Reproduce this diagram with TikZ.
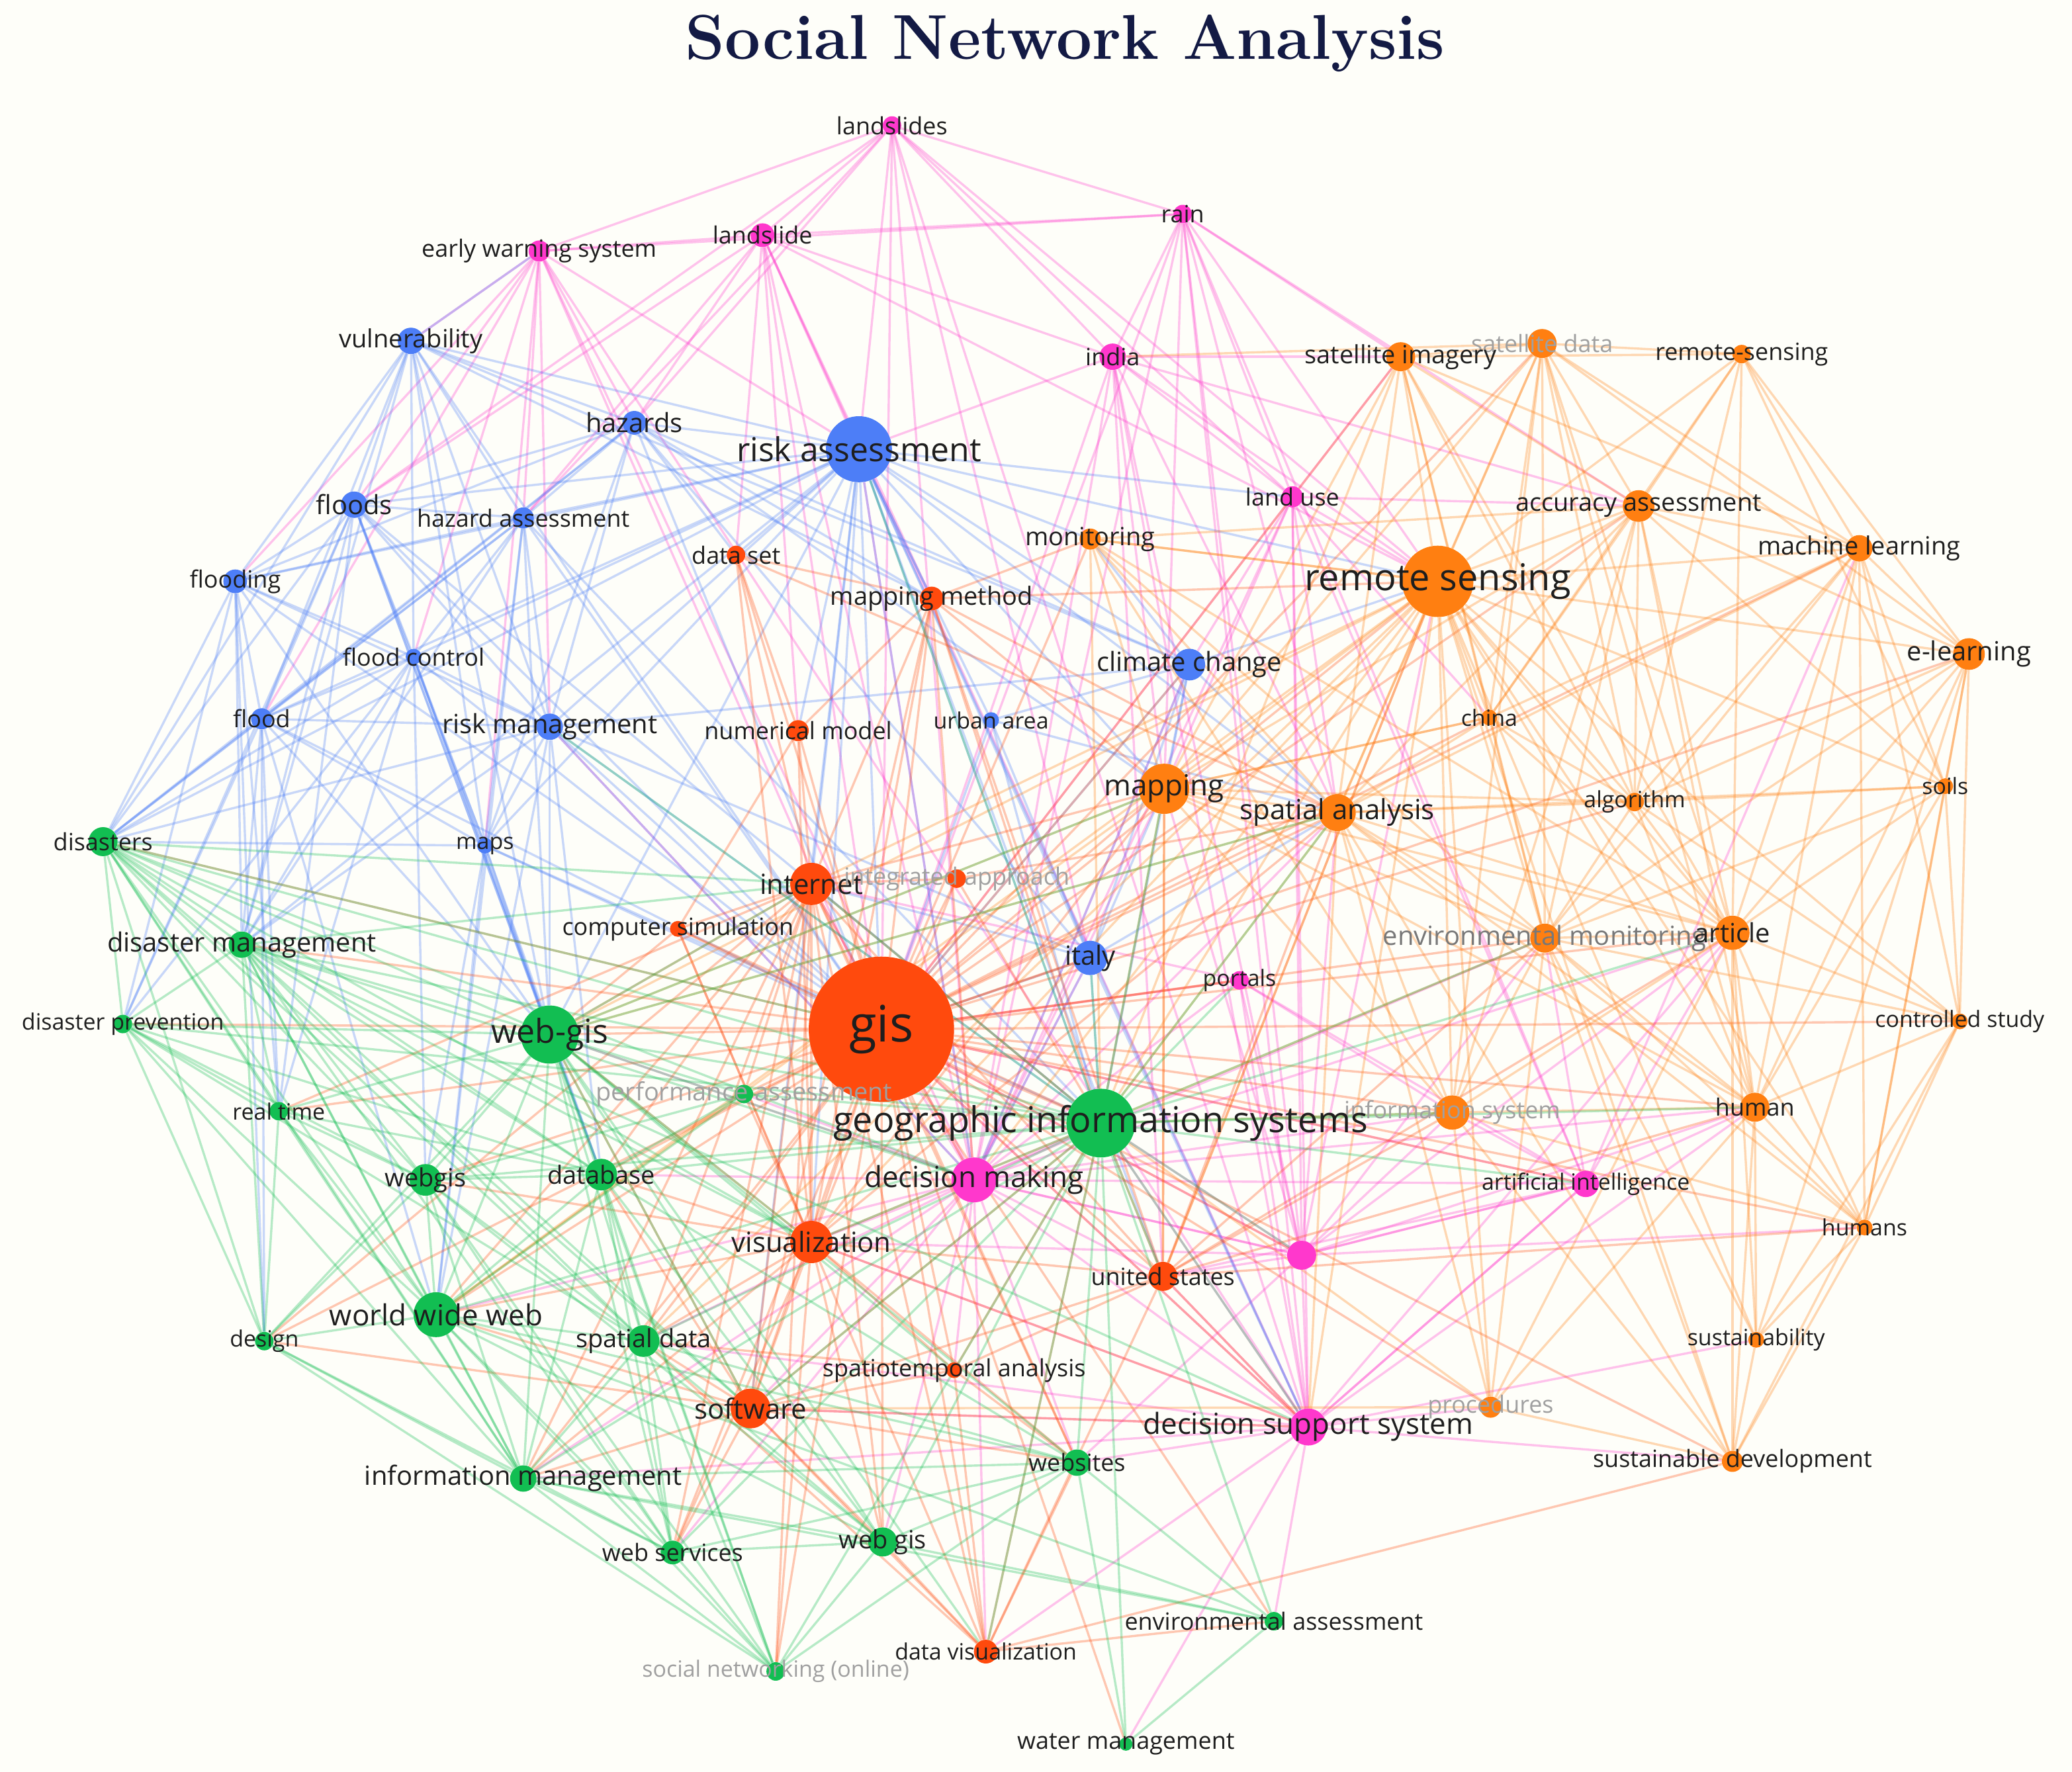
\documentclass[tikz,border=0pt]{standalone}
\usepackage{fontspec}
\newfontfamily\labfont{Open Sans}
\usetikzlibrary{backgrounds}
\definecolor{bgc}{HTML}{FEFEF9}
\definecolor{titlec}{HTML}{131A44}
\definecolor{cP}{HTML}{FF38CC}
\definecolor{cB}{HTML}{4D7EF7}
\definecolor{cR}{HTML}{FF4A0D}
\definecolor{cO}{HTML}{FF7F11}
\definecolor{cG}{HTML}{12BE52}
\definecolor{dark}{HTML}{1E1E1E}
\definecolor{faint}{HTML}{A0A0A0}
\definecolor{mid}{HTML}{787878}
\tikzset{
  kw/.style={circle, inner sep=0pt, draw=none},
  lab/.style={inner sep=0pt, font=\labfont},
  eP/.style={draw=cP, line width=1.7pt, draw opacity=0.3},
  eB/.style={draw=cB, line width=1.7pt, draw opacity=0.3},
  eR/.style={draw=cR, line width=1.7pt, draw opacity=0.3},
  eO/.style={draw=cO, line width=1.7pt, draw opacity=0.3},
  eG/.style={draw=cG, line width=1.7pt, draw opacity=0.3},
}
\begin{document}
\begin{tikzpicture}[x={(1pt,0pt)}, y={(0pt,-1pt)}]
\useasboundingbox (0,0) rectangle (1568,1341);
% ---------- keyword nodes ----------
\foreach \n/\x/\y/\r/\c in {
 lsl/675/95/7/cP, rain/895/162/7/cP, ews/408/190/8/cP, ls/577/178/9/cP,
 india/842/270/10/cP, landuse/978/376/8/cP, portals/938/742/7/cP,
 dm/737/893/17/cP, ai/1200/896/10/cP, pk/985/950/11/cP, dss/990/1080/14/cP,
 vuln/311/258/10/cB, haz/480/320/9/cB, ra/650/340/25/cB, floods/268/382/10/cB,
 hazas/396/392/8/cB, flooding/178/440/9/cB, fc/313/497/6/cB, flood/198/544/8/cB,
 rm/416/550/10/cB, maps/367/640/6/cB, urban/750/545/6/cB, cc/900/503/12/cB,
 italy/825/725/13/cB,
 dataset/557/420/7/cR, mm/705/453/9/cR, nm/604/553/8/cR, inet/614/669/16/cR,
 ia/724/665/7/cR, cs/513/703/6/cR, gis/667/779/55/cR, vis/614/940/16/cR,
 us/880/966/11/cR, sw/568/1066/15/cR, sta/722/1037/6/cR, dv/746/1250/9/cR,
 satd/1167/260/11/cO, sati/1060/270/11/cO, rsh/1318/268/7/cO, mon/825/408/8/cO,
 acc/1240/383/12/cO, rs/1088/440/27/cO, ml/1407/415/10/cO, el/1490/495/12/cO,
 china/1127/543/6/cO, mapping/881/597/19/cO, sa/1012/615/14/cO, alg/1237/607/7/cO,
 soils/1472/595/6/cO, envmon/1169/710/11/cO, article/1311/706/13/cO,
 ctrl/1483/773/6/cO, infsys/1099/842/13/cO, human/1328/838/11/cO,
 humans/1411/929/6/cO, sust/1329/1014/6/cO, proc/1128/1065/8/cO,
 sustdev/1311/1106/8/cO,
 dis/78/637/11/cG, disman/183/715/10/cG, disprev/93/775/7/cG, webgisA/416/783/22/cG,
 perf/563/828/7/cG, rt/211/841/7/cG, gisys/833/850/26/cG, webgisB/322/893/12/cG,
 db/455/889/12/cG, www/330/995/17/cG, design/200/1015/7/cG, sd/487/1015/12/cG,
 im/396/1119/10/cG, websites/815/1107/10/cG, webgisC/668/1167/11/cG,
 ws/509/1175/9/cG, envas/964/1227/7/cG, sn/587/1265/7/cG, wm/852/1320/5/cG}
 {\node[kw, fill=\c, minimum size=2*\r] (\n) at (\x,\y) {};}
% ---------- labels ----------
\foreach \n/\t/\s/\c in {
 lsl/landslides/18/dark, rain/rain/18/dark, ews/early warning system/18/dark,
 ls/landslide/18/dark, india/india/18/dark, landuse/land use/18/dark,
 portals/portals/17/dark, dm/decision making/22/dark,
 ai/artificial intelligence/17/dark, dss/decision support system/22/dark,
 vuln/vulnerability/19/dark, haz/hazards/20/dark, ra/risk assessment/25/dark,
 floods/floods/20/dark, hazas/hazard assessment/18/dark, flooding/flooding/18/dark,
 fc/flood control/18/dark, flood/flood/18/dark, rm/risk management/20/dark,
 maps/maps/17/dark, urban/urban area/17/dark, cc/climate change/20/dark,
 italy/italy/20/dark,
 dataset/data set/18/dark, mm/mapping method/19/dark, nm/numerical model/18/dark,
 inet/internet/21/dark, ia/integrated approach/18/faint,
 cs/computer simulation/18/dark, gis/gis/38/dark, vis/visualization/21/dark,
 us/united states/18/dark, sw/software/21/dark,
 sta/spatiotemporal analysis/18/dark, dv/data visualization/17/dark,
 satd/satellite data/18/faint, sati/satellite imagery/19/dark,
 rsh/remote-sensing/18/dark, mon/monitoring/19/dark,
 acc/accuracy assessment/19/dark, rs/remote sensing/28/dark,
 ml/machine learning/19/dark, el/e-learning/20/dark, china/china/17/dark,
 mapping/mapping/22/dark, sa/spatial analysis/21/dark, alg/algorithm/17/dark,
 soils/soils/17/dark, envmon/environmental monitoring/20/mid,
 article/article/20/dark, ctrl/controlled study/17/dark,
 infsys/information system/18/faint, human/human/18/dark, humans/humans/17/dark,
 sust/sustainability/17/dark, proc/procedures/18/faint,
 sustdev/sustainable development/18/dark,
 dis/disasters/18/dark, disman/disaster management/20/dark,
 disprev/disaster prevention/17/dark, webgisA/web-gis/25/dark,
 perf/performance assessment/19/faint, rt/real time/17/dark,
 gisys/geographic information systems/27/dark, webgisB/webgis/19/dark,
 db/database/19/dark, www/world wide web/22/dark, design/design/17/dark,
 sd/spatial data/19/dark, im/information management/20/dark,
 websites/websites/18/dark, webgisC/web gis/19/dark, ws/web services/18/dark,
 envas/environmental assessment/18/dark,
 sn/social networking (online)/17/faint, wm/water management/18/dark}
 {\node[lab, text=\c] (\n-lab) at (\n) {\fontsize{\s}{\s}\selectfont \t};}
% ---------- title ----------
\node[inner sep=0pt, text=titlec, font=\bfseries\fontsize{48}{48}\selectfont] (title) at (806,33) {Social Network Analysis};
% ---------- background and links ----------
\begin{scope}[on background layer]
\fill[bgc] (0,0) rectangle (1568,1341);
\foreach \s/\c/\ts in {
 lsl/eP/{rain,ews,ls,ra,haz,india,landuse,dm,gis,rs,floods,hazas,dss,italy},
 rain/eP/{ews,ls,india,landuse,rs,gis,dm,dss,sati,mapping,sa,acc,ai,pk},
 ews/eP/{ls,vuln,haz,floods,hazas,flooding,flood,rm,ra,gis,dm,dss,fc,maps},
 ls/eP/{ra,haz,hazas,gis,dm,mm,dataset,nm,dss,floods,india,rs},
 india/eP/{landuse,rs,mapping,gis,ra,dss,dm,sa,us,sati,acc,pk},
 landuse/eP/{rs,sa,gis,mapping,dm,dss,pk,ai,cc,acc,china,sati},
 portals/eP/{gis,dm,dss,ai,pk,infsys,inet},
 dm/eP/{gis,gisys,dss,vis,inet,ra,mapping,sa,pk,ai,us,sw,webgisA,db,www,sd,websites,rm,italy,cc,envmon,article,infsys,human,sta,dv,webgisC,im,ws,perf},
 ai/eP/{dss,pk,gis,article,human,envmon,infsys,us,ml},
 pk/eP/{dss,gis,gisys,dm,us,ai,vis,sa,mapping,rs,article,envmon,websites,infsys,human,humans},
 dss/eP/{gis,gisys,vis,us,sw,websites,envas,wm,proc,sustdev,sust,ai,human,article,dv,im,sd},
 vuln/eB/{haz,ra,floods,hazas,flooding,flood,fc,rm,maps,gis,dis,disman,ews,cc,webgisA,mm},
 haz/eB/{ra,floods,hazas,flooding,flood,rm,maps,gis,cc,mapping,dis,italy,mm,dataset},
 ra/eB/{floods,hazas,flooding,flood,fc,rm,maps,gis,gisys,cc,italy,mapping,sa,rs,mm,dataset,nm,urban,inet,dm,dss,webgisA,disman,dis,vis,landuse,mon,sw,us},
 floods/eB/{hazas,flooding,flood,fc,rm,maps,gis,dis,disman,disprev,webgisA,rt,db,gisys},
 hazas/eB/{flooding,flood,fc,rm,maps,gis,webgisA,dis,disman,gisys,www},
 flooding/eB/{flood,fc,rm,dis,disman,disprev,gis,webgisA,rt,design},
 fc/eB/{flood,rm,maps,gis,dis,disman,disprev,webgisA,rt,db,webgisB},
 flood/eB/{rm,dis,disman,disprev,gis,webgisA,rt,maps,www,design},
 rm/eB/{maps,gis,gisys,webgisA,dis,disman,db,www,italy,cc,dm},
 maps/eB/{gis,webgisA,gisys,dis,db,webgisB,www},
 urban/eB/{gis,cc,italy,gisys,sa},
 cc/eB/{gis,italy,gisys,rs,sa,mapping,mon,dm},
 italy/eB/{gis,gisys,inet,dss,mapping,dm,sa},
 dataset/eR/{gis,mm,inet,nm,vis,sa},
 mm/eR/{gis,inet,nm,vis,rs,mapping,sa,dm,gisys,sw,us,mon},
 nm/eR/{gis,cs,inet,vis},
 inet/eR/{gis,gisys,vis,sw,webgisA,www,db,sd,cs,ia,dm,mapping,im,webgisC,ws,websites,us,dv,perf,sn,design,rt},
 ia/eR/{gis,gisys,vis,sa},
 cs/eR/{gis,vis,webgisA,gisys},
 gis/eR/{rs,gisys,mapping,sa,vis,sw,us,dss,webgisA,www,db,sd,im,ws,webgisC,websites,dv,sta,envmon,article,infsys,human,acc,sati,satd,ml,el,china,alg,dis,disman,disprev,rt,webgisB,design,perf,mon,proc,sn,envas,humans,ctrl,sustdev,wm,pk,ai,portals,cc,italy},
 vis/eR/{gisys,sw,sta,dv,us,sd,www,db,webgisB,im,webgisC,websites,mapping,sa,dss,webgisA,ws,sn,perf,cs},
 us/eR/{gisys,sw,dv,sta,dss,sa,mapping,rs,human,article,envmon,humans,infsys},
 sw/eR/{gisys,sta,dv,www,im,sd,ws,webgisC,websites,webgisA,db,dss,design},
 sta/eR/{dv,gisys,sd,websites},
 dv/eR/{sd,webgisC,websites,sustdev,gisys,envas},
 satd/eO/{sati,rsh,rs,acc,ml,mapping,sa,china,envmon,article,alg,el,india,infsys,human},
 sati/eO/{rs,acc,rsh,mapping,sa,china,ml,alg,envmon,article,gisys},
 rsh/eO/{rs,acc,ml,el,alg,article,china,soils},
 mon/eO/{rs,mapping,sa,gisys,envmon,acc,infsys,article},
 acc/eO/{rs,ml,el,alg,china,mapping,sa,envmon,article,soils,human,infsys},
 rs/eO/{mapping,sa,gisys,ml,el,china,alg,soils,envmon,article,ctrl,infsys,human,humans,proc,sust,sustdev,dss,mon,us,vis,inet,webgisA,dm,www,sd},
 ml/eO/{el,alg,soils,article,ctrl,human,china,envmon,sa,humans},
 el/eO/{soils,article,ctrl,human,humans,alg,envmon,sust},
 china/eO/{sa,alg,envmon,article,mapping},
 mapping/eO/{sa,gisys,envmon,article,infsys,alg,china,human,us,webgisA,www},
 sa/eO/{gisys,envmon,article,infsys,alg,human,humans,soils,proc,sustdev,dss,webgisA},
 alg/eO/{envmon,article,ctrl,human,soils},
 soils/eO/{article,ctrl,human,humans,envmon},
 envmon/eO/{article,ctrl,infsys,human,humans,sust,sustdev,proc,gisys},
 article/eO/{ctrl,human,humans,sust,sustdev,infsys,proc},
 ctrl/eO/{human,humans,sust,sustdev},
 infsys/eO/{human,humans,gisys,proc,sustdev},
 human/eO/{humans,sust,sustdev,proc},
 humans/eO/{sust,sustdev},
 sust/eO/{sustdev},
 proc/eO/{sustdev,gisys,sw},
 dis/eG/{disman,disprev,webgisA,rt,webgisB,www,design,gisys,db,im,sd,vis,sw,dm,inet,gis},
 disman/eG/{disprev,webgisA,rt,webgisB,www,design,gisys,db,im,sd,ws,vis,sw,dm,inet,dss},
 disprev/eG/{webgisA,rt,webgisB,www,design,im,gisys,db,sd},
 webgisA/eG/{gisys,rt,webgisB,db,www,design,sd,im,ws,webgisC,websites,sn,perf,inet,vis,sw,dm,mapping,sa,dv,sta},
 perf/eG/{gisys,db,www,webgisB},
 rt/eG/{webgisB,www,design,db,im},
 gisys/eG/{db,www,sd,im,ws,webgisC,websites,envas,wm,sn,dv,webgisB,human,article,envmon,infsys,vis,sw,inet,mapping,sa,dss,us,ra,rm,italy,pk,ai,portals},
 webgisB/eG/{db,www,design,sd,im,ws,webgisC,sn},
 db/eG/{www,sd,im,ws,webgisC,websites,sn},
 www/eG/{design,sd,im,ws,webgisC,websites,sn,envas},
 design/eG/{im,ws,sn},
 sd/eG/{im,ws,webgisC,websites,sn},
 im/eG/{ws,webgisC,sn,websites,envas},
 websites/eG/{webgisC,ws,sn,envas,wm},
 webgisC/eG/{ws,sn,envas},
 ws/eG/{sn},
 envas/eG/{wm}}
 {\foreach \t in \ts {\draw[\c] (\s) -- (\t);}}
\end{scope}
\end{tikzpicture}
\end{document}
